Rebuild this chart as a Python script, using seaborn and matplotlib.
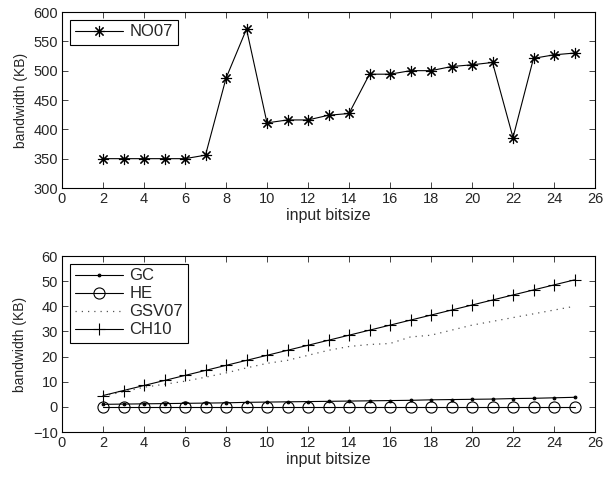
import matplotlib
matplotlib.use("Agg")
import matplotlib.pyplot as plt
import seaborn as sns

bitsize = [2, 3, 4, 5, 6, 7, 8, 9, 10, 11, 12, 13, 14, 15, 16, 17, 18, 19, 20, 21, 22, 23, 24, 25]

no07 = [350, 350, 350, 350, 350, 356, 487, 571, 411, 416, 416, 424, 427,
        494, 494, 500, 500, 507, 510, 514, 386, 521, 527, 530]

gc = [1.0, 1.1, 1.2, 1.3, 1.4, 1.5, 1.6, 1.8, 1.9, 2.0, 2.1, 2.2, 2.3,
      2.4, 2.5, 2.6, 2.8, 2.9, 3.0, 3.1, 3.3, 3.4, 3.6, 3.8]
he = [0.0] * 24
gsv07 = [4.3, 6.0, 7.8, 9.0, 10.2, 11.8, 13.5, 15.5, 17.3, 18.5, 20.5, 22.5,
         24.0, 24.8, 25.2, 27.8, 28.5, 30.5, 32.5, 34.0, 35.5, 37.0, 38.5, 40.0]
ch10 = [4.5, 6.5, 8.5, 10.5, 12.5, 14.5, 16.5, 18.5, 20.5, 22.5, 24.5, 26.5,
        28.5, 30.5, 32.5, 34.5, 36.5, 38.5, 40.5, 42.5, 44.5, 46.5, 48.5, 50.5]

sns.set_style("ticks")
plt.rcParams["font.family"] = ["Liberation Sans", "DejaVu Sans"]
plt.rcParams["font.size"] = 10

fig = plt.figure(figsize=(6.03, 4.78), dpi=100)
ax1 = fig.add_axes([62 / 603, 1 - 188 / 478, 533 / 603, 176 / 478])
ax2 = fig.add_axes([62 / 603, 1 - 432 / 478, 533 / 603, 176 / 478])

# matlab style asterisk: + and x on top of each other
asterisk = (8, 2, 0)

sns.lineplot(x=bitsize, y=no07, ax=ax1, color="black", lw=0.8,
             marker=asterisk, markersize=8, markeredgewidth=0.8,
             markeredgecolor="black", label="NO07")

sns.lineplot(x=bitsize, y=gc, ax=ax2, color="black", lw=0.8, marker=".",
             markersize=4, markeredgecolor="black", label="GC")
sns.lineplot(x=bitsize, y=he, ax=ax2, color="black", lw=0.8, marker="o",
             markersize=8, markerfacecolor="none", markeredgecolor="black",
             markeredgewidth=0.8, label="HE")
sns.lineplot(x=bitsize, y=gsv07, ax=ax2, color="#555555", lw=0.9,
             linestyle=(0, (1, 4)), label="GSV07")
sns.lineplot(x=bitsize, y=ch10, ax=ax2, color="black", lw=0.8, marker="+",
             markersize=9, markeredgewidth=0.8, markeredgecolor="black",
             label="CH10")

ax1.set_ylim(300, 600)
ax1.set_yticks([300, 350, 400, 450, 500, 550, 600])
ax2.set_ylim(-10, 60)
ax2.set_yticks([-10, 0, 10, 20, 30, 40, 50, 60])
ax2.set_yticklabels(["\u221210", "0", "10", "20", "30", "40", "50", "60"])

for ax in (ax1, ax2):
    ax.set_xlim(0, 26)
    ax.set_xticks(range(0, 27, 2))
    ax.set_xlabel("input bitsize", labelpad=1, fontsize=11.5)
    ax.set_ylabel("bandwidth (KB)", labelpad=4)
    ax.tick_params(direction="in", top=True, right=True, length=4,
                   width=0.6, labelsize=10.5, pad=3)
    for s in ax.spines.values():
        s.set_visible(True)
        s.set_linewidth(0.8)
        s.set_color("black")
    leg = ax.legend(loc="upper left", fancybox=False, edgecolor="black",
                    framealpha=1, fontsize=12, handlelength=2.9,
                    borderpad=0.3, labelspacing=0.18, handletextpad=0.4,
                    borderaxespad=0.45)
    leg.get_frame().set_linewidth(0.8)

fig.savefig("out.png", dpi=100)
